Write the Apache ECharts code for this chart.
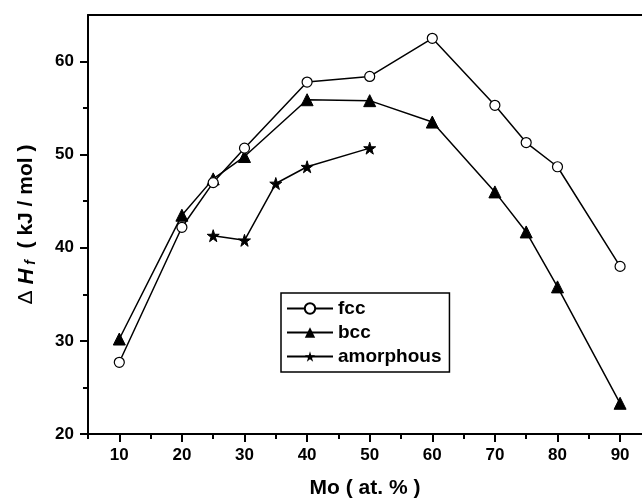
<!DOCTYPE html>
<html>
<head>
<meta charset="utf-8">
<script src="https://cdn.jsdelivr.net/npm/echarts@6/dist/echarts.min.js"></script>
<style>
  html, body { margin: 0; padding: 0; background: #fff; }
  #chart { width: 642px; height: 500px; }
</style>
</head>
<body>
<div id="chart"></div>
<script>
// Mo content (at. %)
const fccX = [10, 20, 25, 30, 40, 50, 60, 70, 75, 80, 90];
const fccY = [27.7, 42.2, 47.0, 50.7, 57.8, 58.4, 62.5, 55.3, 51.3, 48.7, 38.0];
const bccX = [10, 20, 25, 30, 40, 50, 60, 70, 75, 80, 90];
const bccY = [30.2, 43.5, 47.4, 49.8, 55.9, 55.8, 53.5, 46.0, 41.7, 35.8, 23.3];
const amoX = [25, 30, 35, 40, 50];
const amoY = [41.3, 40.8, 46.9, 48.7, 50.7];

const xTicks = [10, 20, 30, 40, 50, 60, 70, 80, 90];
const xMinorTicks = [5, 15, 25, 35, 45, 55, 65, 75, 85];
const yTicks = [20, 30, 40, 50, 60];
const yMinorTicks = [25, 35, 45, 55];

const FONT = 'Liberation Sans, Arial, sans-serif';
const starPath = 'path://M50,0 L61,35 L98,35 L68,57 L79,91 L50,70 L21,91 L32,57 L2,35 L39,35 Z';

const pairs = (xs, ys) => xs.map((x, i) => [x, ys[i]]);

const chart = echarts.init(document.getElementById('chart'));

const axisLine = { show: true, lineStyle: { color: '#000', width: 2 } };

chart.setOption({
  animation: false,
  backgroundColor: '#fff',
  grid: { left: 88, right: 0, top: 15, bottom: 66, containLabel: false, outerBoundsMode: 'none' },
  legend: {
    orient: 'vertical',
    left: 281,
    top: 293,
    padding: [6, 8, 6, 5],
    itemGap: 5,
    itemWidth: 46,
    itemHeight: 13,
    borderColor: '#000',
    borderWidth: 1.5,
    textStyle: { fontFamily: FONT, fontWeight: 'bold', fontSize: 19, color: '#000' },
    data: ['fcc', 'bcc', 'amorphous']
  },
  xAxis: [
    {
      type: 'value', min: 5, max: 93.5,
      axisLine: axisLine,
      splitLine: { show: false },
      axisTick: { show: true, customValues: xTicks, length: 8, lineStyle: { color: '#000', width: 2 } },
      axisLabel: { customValues: xTicks, margin: 13, fontFamily: FONT, fontWeight: 'bold', fontSize: 17, color: '#000' },
      name: 'Mo ( at. % )',
      nameLocation: 'middle',
      nameGap: 44,
      nameTextStyle: { fontFamily: FONT, fontWeight: 'bold', fontSize: 21, color: '#000' }
    },
    {
      type: 'value', min: 5, max: 93.5, position: 'bottom',
      axisLine: { show: false },
      splitLine: { show: false },
      axisTick: { show: true, customValues: xMinorTicks, length: 5, lineStyle: { color: '#000', width: 2 } },
      axisLabel: { show: false }
    },
    {
      type: 'value', min: 5, max: 93.5, position: 'top',
      axisLine: axisLine,
      splitLine: { show: false },
      axisTick: { show: false },
      axisLabel: { show: false }
    }
  ],
  yAxis: [
    {
      type: 'value', min: 20, max: 65,
      axisLine: axisLine,
      splitLine: { show: false },
      axisTick: { show: true, customValues: yTicks, length: 8, lineStyle: { color: '#000', width: 2 } },
      axisLabel: { customValues: yTicks, margin: 14, fontFamily: FONT, fontWeight: 'bold', fontSize: 17, color: '#000' },
      name: '{d|Δ }{h|H}{s| f}{n|  ( kJ / mol )}',
      nameLocation: 'middle',
      nameRotate: 90,
      nameGap: 50,
      nameTextStyle: {
        color: '#000',
        rich: {
          d: { fontFamily: FONT, fontSize: 21, color: '#000' },
          h: { fontFamily: FONT, fontSize: 22, fontWeight: 'bold', fontStyle: 'italic', color: '#000' },
          s: { fontFamily: FONT, fontSize: 14, fontWeight: 'bold', fontStyle: 'italic', color: '#000', verticalAlign: 'bottom', padding: [9, 0, 0, 0] },
          n: { fontFamily: FONT, fontSize: 21, fontWeight: 'bold', color: '#000' }
        }
      }
    },
    {
      type: 'value', min: 20, max: 65, position: 'left',
      axisLine: { show: false },
      splitLine: { show: false },
      axisTick: { show: true, customValues: yMinorTicks, length: 5, lineStyle: { color: '#000', width: 2 } },
      axisLabel: { show: false }
    }
  ],
  series: [
    {
      name: 'fcc', type: 'line',
      data: pairs(fccX, fccY),
      symbol: 'circle', symbolSize: 10,
      lineStyle: { color: '#000', width: 1.5 },
      itemStyle: { color: '#fff', borderColor: '#000', borderWidth: 1.2 },
      z: 3
    },
    {
      name: 'bcc', type: 'line',
      data: pairs(bccX, bccY),
      symbol: 'triangle', symbolSize: 12,
      lineStyle: { color: '#000', width: 1.5 },
      itemStyle: { color: '#000', borderColor: '#000' },
      z: 2
    },
    {
      name: 'amorphous', type: 'line',
      data: pairs(amoX, amoY),
      symbol: starPath, symbolSize: 12,
      lineStyle: { color: '#000', width: 1.5 },
      itemStyle: { color: '#000', borderColor: '#000' },
      z: 2
    }
  ]
});
</script>
</body>
</html>
